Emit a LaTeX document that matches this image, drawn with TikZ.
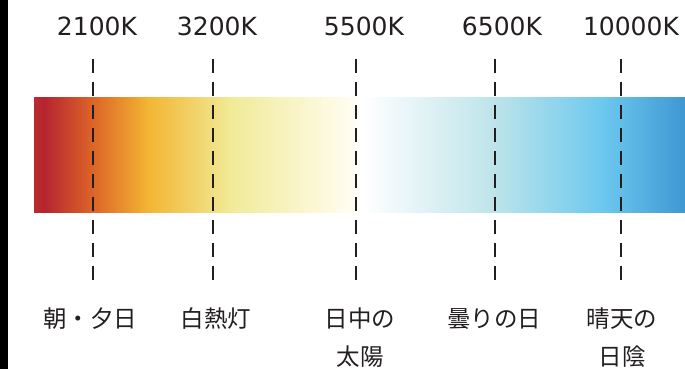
\documentclass[tikz,border=0pt]{standalone}
\usepackage{fontspec}
\setmainfont{DejaVu Sans}
\newfontfamily\jp{Noto Sans CJK JP}
\usepackage{tikz}

\definecolor{ink}{HTML}{231F20}
\definecolor{ctA}{HTML}{BA2A2F}
\definecolor{ctB}{HTML}{B5252F}
\definecolor{ctC}{HTML}{DC6328}
\definecolor{ctD}{HTML}{F3B533}
\definecolor{ctE}{HTML}{F1EB98}
\definecolor{ctF}{HTML}{FFFDF0}
\definecolor{ctG}{HTML}{BDE4EA}
\definecolor{ctH}{HTML}{6CC8EE}
\definecolor{ctI}{HTML}{3F97D3}
\pgfdeclarehorizontalshading{colortemp}{100bp}{
  color(0bp)=(ctA); color(25bp)=(ctA); color(25.8bp)=(ctB);
  color(29.45bp)=(ctC); color(33.76bp)=(ctD); color(40.21bp)=(ctE);
  color(49.3bp)=(ctF); color(50.2bp)=(white); color(60.33bp)=(ctG);
  color(68.7bp)=(ctH); color(75bp)=(ctI); color(100bp)=(ctI)}

\begin{document}
\begin{tikzpicture}[x=1pt,y=-1pt]
\tikzstyle{every node}=[inner sep=0pt, text=ink]
\tikzstyle{kelvin}=[font=\fontsize{25}{30}\selectfont]
\tikzstyle{scene}=[font=\jp\fontsize{23.5}{38}\selectfont, align=center]
\tikzstyle{tick}=[draw=ink, line width=2.7pt, dash pattern=on 14pt off 9pt]
\useasboundingbox (0,0) rectangle (685,369);
\fill[black] (0,0) rectangle (8,369);
\shade[shading=colortemp] (34,97) rectangle (685,212);

\coordinate (t1) at (93,59);  \coordinate (b1) at (93,280);
\coordinate (t2) at (213,59); \coordinate (b2) at (213,280);
\coordinate (t3) at (356,59); \coordinate (b3) at (356,280);
\coordinate (t4) at (495,59); \coordinate (b4) at (495,280);
\coordinate (t5) at (621,59); \coordinate (b5) at (621,280);
\draw[tick] (t1) -- (b1);
\draw[tick] (t2) -- (b2);
\draw[tick] (t3) -- (b3);
\draw[tick] (t4) -- (b4);
\draw[tick] (t5) -- (b5);

\draw (97,26.5) node (k1) [kelvin] {2100K};
\draw (217,26.5) node (k2) [kelvin] {3200K};
\draw (364,26.5) node (k3) [kelvin] {5500K};
\draw (502,26.5) node (k4) [kelvin] {6500K};
\draw (631,26.5) node (k5) [kelvin] {10000K};

\draw (90,319) node (s1) [scene] {朝・夕日};
\draw (216,319) node (s2) [scene] {白熱灯};
\draw (360,338) node (s3) [scene] {日中の\\太陽};
\draw (494,319) node (s4) [scene] {曇りの日};
\draw (622,338) node (s5) [scene] {晴天の\\日陰};
\end{tikzpicture}
\end{document}
